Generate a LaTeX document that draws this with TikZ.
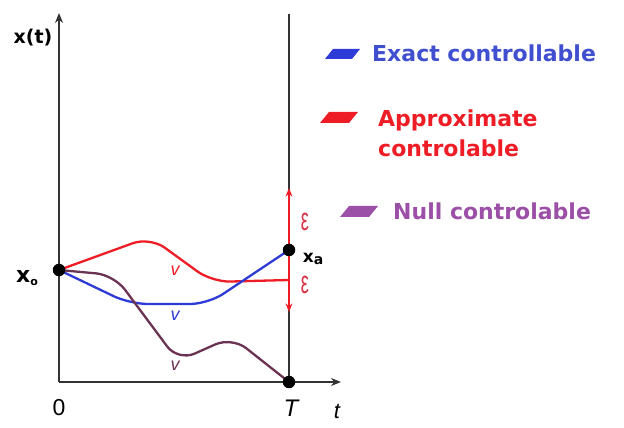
\documentclass[tikz,border=0pt]{standalone}
\usepackage{fontspec}
\setmainfont{Liberation Sans}
\newfontfamily\legfont{DejaVu Sans}
\usepackage{amsmath}
\usetikzlibrary{arrows.meta}
\definecolor{exactblue}{HTML}{2E3BD6}
\definecolor{legblue}{HTML}{3F4FD0}
\definecolor{approxred}{HTML}{EE1C24}
\definecolor{epsred}{HTML}{D8374A}
\definecolor{nullbrown}{HTML}{6A3352}
\definecolor{nullpurple}{HTML}{9B4FA6}
\definecolor{axisgray}{HTML}{333333}
\tikzset{
  % the two axes and the line at T
  ax/.style    = {line width=2.2pt, axisgray},
  axarr/.style = {ax, -{Stealth[length=3.5mm,width=2.8mm]}},
  % a trajectory
  traj/.style  = {line width=2.3pt, line join=round, rounded corners=18pt},
  % a marked state
  pt/.style    = {circle, fill=black, inner sep=0pt, minimum size=12.5pt},
  % the epsilon band
  eps/.style   = {line width=1.6pt, approxred,
                  {Stealth[length=3mm,width=2.4mm]}-{Stealth[length=3mm,width=2.4mm]}},
  epsl/.style  = {epsred, font=\fontsize{18}{18}\selectfont, inner sep=0pt},
  % the small v on each curve
  vl/.style    = {font=\fontsize{18}{18}\selectfont\itshape, inner sep=0pt},
  % legend text
  leg/.style   = {font=\legfont\bfseries\fontsize{22}{30}\selectfont,
                  anchor=base west, inner sep=0pt, align=left},
}

\begin{document}
\begin{tikzpicture}[x=1pt, y=1pt]
  \useasboundingbox (0,0) rectangle (624,428);
  % --- axes ---
  \coordinate (O)    at (59,46);
  \coordinate (ytop) at (59,415);
  \coordinate (xend) at (341,46);
  \coordinate (Ttop) at (289,414);
  \coordinate (Tbot) at (289,46);
  \draw[axarr] (O) -- (ytop);
  \draw[axarr] (O) -- (xend);
  \draw[ax] (Tbot) -- (Ttop);
  % --- the epsilon band round x_d ---
  \coordinate (eup) at (289,240);
  \coordinate (edn) at (289,116);
  \draw[eps] (edn) -- (eup);
  \node[epsl] (e1) at (305,206) {\scalebox{1}[1.8]{ε}};
  \node[epsl] (e2) at (305,143) {\scalebox{1}[1.8]{ε}};
  % --- the trajectories ---
  \coordinate (x0) at (59,158);
  \coordinate (xd) at (289,178);
  \coordinate (T)  at (289,46);
  \coordinate (r1) at (150,191);
  \coordinate (r2) at (212,146);
  \coordinate (r3) at (289,148);
  \coordinate (b1) at (130,124);
  \coordinate (b2) at (208,124);
  \coordinate (p1) at (114,153);
  \coordinate (p2) at (178,67);
  \coordinate (p3) at (232,91);
  \draw[traj, approxred] (x0) -- (r1) -- (r2) -- (r3);
  \draw[traj, exactblue] (x0) -- (b1) -- (b2) -- (xd);
  \draw[traj, nullbrown] (x0) -- (p1) -- (p2) -- (p3) -- (T);
  \node[vl, approxred] (vr) at (175,157) {v};
  \node[vl, exactblue] (vb) at (175,112) {v};
  \node[vl, nullbrown] (vn) at (175,62)  {v};
  % --- marked states ---
  \node[pt] (nx0) at (x0) {};
  \node[pt] (nxd) at (xd) {};
  \node[pt] (nT)  at (T)  {};
  % --- axis labels ---
  \node[font=\legfont\bfseries\fontsize{19}{19}\selectfont] (xt) at (33,390) {x(t)};
  \node[font=\legfont\bfseries\fontsize{22}{22}\selectfont, inner sep=0pt] (lx0) at (27,150)
    {x\raisebox{-3pt}{\fontsize{11}{11}\selectfont o}};
  \node[font=\legfont\bfseries\fontsize{17}{17}\selectfont, inner sep=0pt] (lxd) at (313,169)
    {x\raisebox{-2pt}{\fontsize{14}{14}\selectfont a}};
  \node[font=\fontsize{23}{23}\selectfont] (l0) at (59,20) {0};
  \node[font=\fontsize{24}{24}\selectfont\itshape] (lT) at (291,20) {T};
  \node[font=\fontsize{22}{22}\selectfont\itshape] (lt) at (337,17) {t};
  % --- legend ---
  \fill[exactblue]  (325,369) -- (352,369) -- (360,379) -- (333,379) -- cycle;
  \fill[approxred]  (320,305) -- (349,305) -- (358,316) -- (329,316) -- cycle;
  \fill[nullpurple] (340,211) -- (369,211) -- (378,222) -- (349,222) -- cycle;
  \node[leg, legblue]    (lgE) at (372,366) {Exact controllable};
  \node[leg, approxred]  (lgA) at (378,271) {Approximate\\controlable};
  \node[leg, nullpurple] (lgN) at (393,208) {Null controlable};
\end{tikzpicture}
\end{document}
